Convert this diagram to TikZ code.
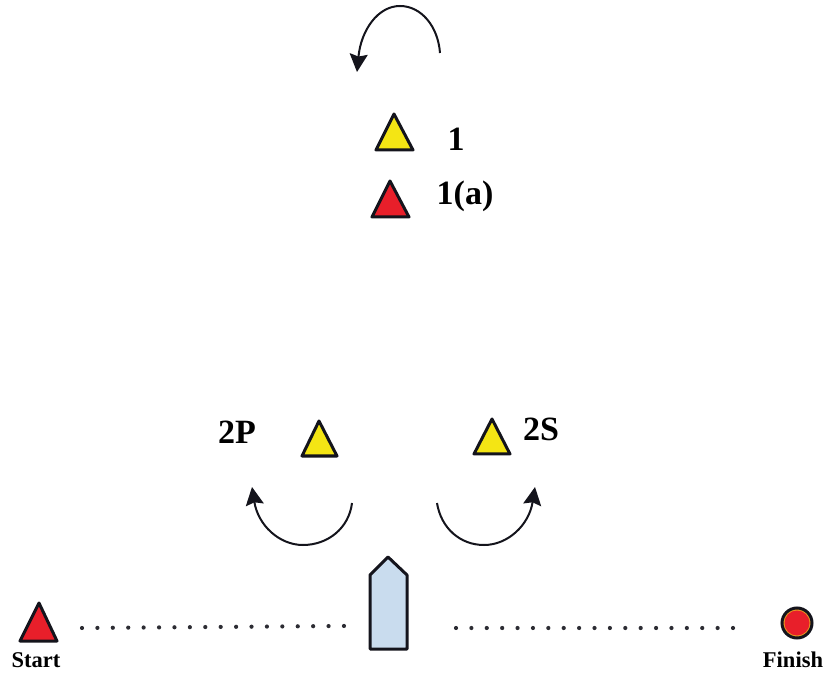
\documentclass[tikz,border=0pt]{standalone}
\usepackage{fontspec}
\setmainfont{Liberation Serif}
\usetikzlibrary{arrows.meta}
\definecolor{markyellow}{HTML}{F4E514}
\definecolor{markred}{HTML}{E81F2A}
\definecolor{boatblue}{HTML}{C9DCEE}
\definecolor{inkdark}{HTML}{14141C}
\definecolor{ringorange}{HTML}{E89A20}
\tikzset{
  x=1pt,y=-1pt,
  yellowmark/.style={draw=inkdark,line width=3pt,line join=round,fill=markyellow},
  redmark/.style={draw=inkdark,line width=3pt,line join=round,fill=markred},
  turnarrow/.style={draw=inkdark,line width=2pt,-{Stealth[length=18pt,width=18pt,inset=2.5pt]}},
  biglabel/.style={font=\fontsize{34}{34}\selectfont\bfseries,inner sep=0pt,text=black},
  smalllabel/.style={font=\fontsize{22.5}{22.5}\selectfont\bfseries,inner sep=0pt,text=black},
  lanedot/.style={circle,fill=inkdark!90,inner sep=0pt,minimum size=4.2pt}
}
\begin{document}
\begin{tikzpicture}
\useasboundingbox (0,0) rectangle (828,676);
% top turn
\draw[turnarrow] (440,53) .. controls (438,26) and (421,6) .. (400,6)
  .. controls (378,6) and (361,30) .. (357,72);
% side turns
\draw[turnarrow] (352,503) .. controls (349,528) and (328,545) .. (303,545)
  .. controls (279,545) and (258,525) .. (252,487);
\draw[turnarrow] (437,503) .. controls (441,528) and (460,545) .. (484,545)
  .. controls (508,545) and (529,525) .. (535,487);
% marks
\draw[yellowmark] (394,114) -- (413,150) -- (376,150) -- cycle;
\draw[redmark] (390,181) -- (409,217) -- (372,217) -- cycle;
\draw[yellowmark] (319,421) -- (337,456) -- (302,456) -- cycle;
\draw[yellowmark] (492,419) -- (510,454) -- (474,454) -- cycle;
\draw[redmark] (39,603) -- (57,641) -- (20,641) -- cycle;
% finish buoy
\draw[draw=inkdark,line width=3pt,fill=ringorange] (797,623) circle (15);
\fill[markred] (797,623) circle (12.5);
% boat
\draw[draw=inkdark,line width=3pt,line join=round,fill=boatblue]
  (388,557) -- (407,575) -- (407,649) -- (370,649) -- (370,575) -- cycle;
% dotted lanes
\foreach \i in {0,...,17} \node[lanedot] at ({82+15.41*\i},{628-0.12*\i}) {};
\foreach \i in {0,...,18} \node[lanedot] at ({456+15.39*\i},628) {};
% labels
\node[biglabel] (one) at (456,139) {1};
\node[biglabel] (onea) at (465,196) {1(a)};
\node[biglabel] (twop) at (237,432) {2P};
\node[biglabel] (twos) at (541,429) {2S};
\node[smalllabel] (start) at (36,660) {Start};
\node[smalllabel] (finish) at (793,660) {Finish};
\end{tikzpicture}
\end{document}
